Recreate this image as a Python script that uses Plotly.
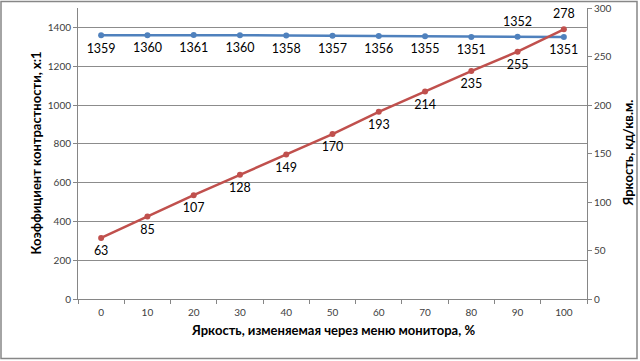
import plotly.graph_objects as go

categories = ["0", "10", "20", "30", "40", "50", "60", "70", "80", "90", "100"]
contrast = [1359, 1360, 1361, 1360, 1358, 1357, 1356, 1355, 1351, 1352, 1351]
brightness = [63, 85, 107, 128, 149, 170, 193, 214, 235, 255, 278]

contrast_pos = ["bottom center"] * 9 + ["top center", "bottom center"]
brightness_pos = ["bottom center"] * 10 + ["top center"]

BLUE = "#4F81BD"
RED = "#C0504D"
FONT = "Lato, 'Open Sans', sans-serif"
label_font = dict(size=12.5, color="#000000", family=FONT)

fig = go.Figure()
fig.add_trace(go.Scatter(
    x=categories, y=contrast, mode="lines+markers",
    line=dict(color=BLUE, width=2.5), marker=dict(color=BLUE, size=6),
    cliponaxis=False, showlegend=False, yaxis="y"))
fig.add_trace(go.Scatter(
    x=categories, y=brightness, mode="lines+markers",
    line=dict(color=RED, width=2.5), marker=dict(color=RED, size=6),
    cliponaxis=False, showlegend=False, yaxis="y2"))
# data labels (invisible larger markers give Excel-like label offset)
fig.add_trace(go.Scatter(
    x=categories, y=contrast, mode="markers+text",
    marker=dict(size=11, opacity=0),
    text=[str(v) for v in contrast], textposition=contrast_pos, textfont=label_font,
    cliponaxis=False, showlegend=False, hoverinfo="skip", yaxis="y"))
fig.add_trace(go.Scatter(
    x=categories, y=brightness, mode="markers+text",
    marker=dict(size=11, opacity=0),
    text=[str(v) for v in brightness], textposition=brightness_pos, textfont=label_font,
    cliponaxis=False, showlegend=False, hoverinfo="skip", yaxis="y2"))

axis_common = dict(
    showline=True, linecolor="#868686", linewidth=1,
    ticks="outside", ticklen=4, tickcolor="#868686",
    tickfont=dict(size=10, color="#404040", family=FONT),
    zeroline=False, automargin=False,
)

title_font = dict(size=13, color="#000000", family=FONT)

fig.update_layout(
    width=640, height=361,
    margin=dict(l=78, r=53, t=8, b=62),
    paper_bgcolor="white", plot_bgcolor="white",
    font=dict(family=FONT),
    xaxis=dict(
        type="category", tickson="boundaries", range=[-0.5, 10.5],
        showgrid=False, ticklabelstandoff=4, **axis_common),
    yaxis=dict(
        range=[0, 1500], dtick=200, showgrid=True, gridcolor="#8C8C8C", gridwidth=1,
        **axis_common),
    yaxis2=dict(
        range=[0, 300], dtick=50, showgrid=False, overlaying="y", side="right",
        **axis_common),
    annotations=[
        dict(text="<b>Яркость, изменяемая через меню монитора, %</b>",
             xref="paper", yref="paper", x=0.5, y=-31/291,
             xanchor="center", yanchor="middle", showarrow=False, font=title_font),
        dict(text="<b>Коэффициент контрастности, х:1</b>",
             xref="paper", yref="paper", x=-43/509, y=0.5, textangle=-90,
             xanchor="center", yanchor="middle", showarrow=False, font=title_font),
        dict(text="<b>Яркость, кд/кв.м.</b>",
             xref="paper", yref="paper", x=1 + 40/509, y=0.5, textangle=-90,
             xanchor="center", yanchor="middle", showarrow=False, font=title_font),
    ],
    shapes=[dict(type="rect", xref="paper", yref="paper",
                 x0=-77/509, x1=1 + 50/509, y0=-59.5/291, y1=1 + 6.5/291,
                 line=dict(color="#878787", width=1.5))],
)

fig.write_html("out.html", config={"displayModeBar": False},
               post_script="document.body.style.margin='0px';document.body.style.overflow='hidden';")
